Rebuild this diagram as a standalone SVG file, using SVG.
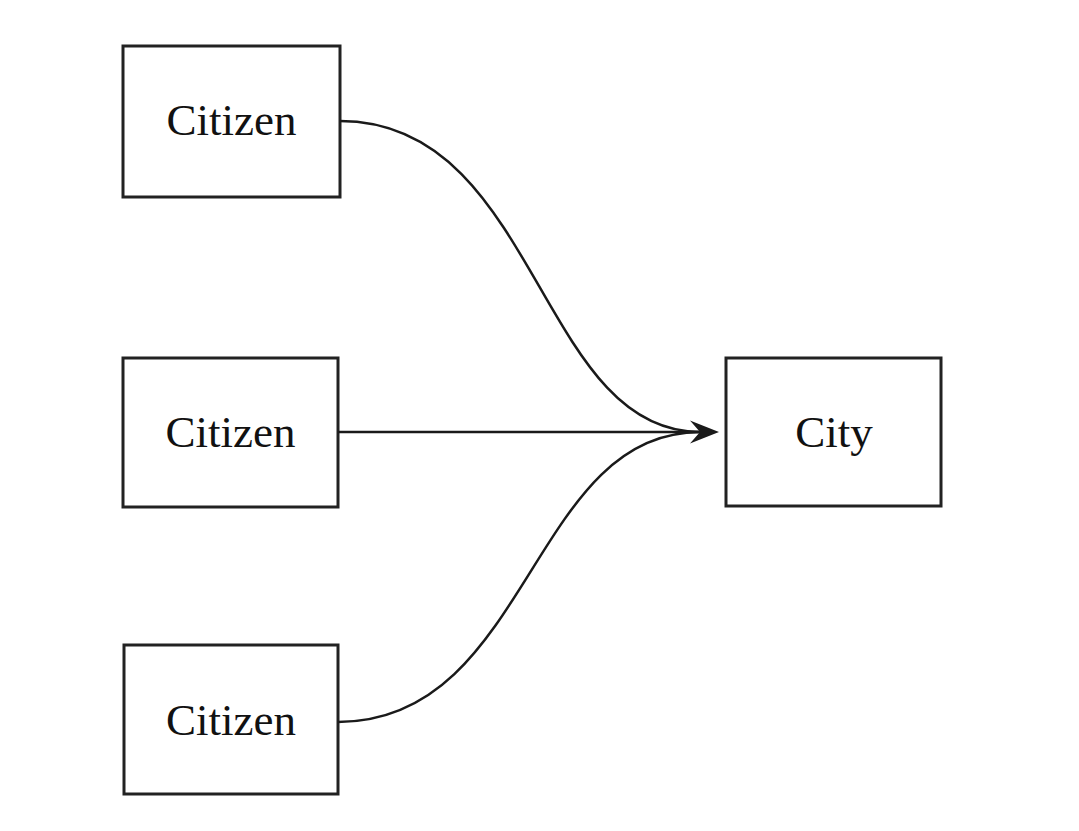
<svg xmlns="http://www.w3.org/2000/svg" width="1079" height="831" viewBox="0 0 1079 831">
<style>
.box{fill:#fff;stroke:#222;stroke-width:3}
.lbl{font-family:"Liberation Serif","Times New Roman",serif;font-size:45px;fill:#111;text-anchor:middle}
.edge{fill:none;stroke:#1a1a1a;stroke-width:2.5}
.head{fill:#1a1a1a}
</style>
<rect width="1079" height="831" fill="#fff"/>
<g id="citizen1"><rect class="box" x="123" y="46" width="217" height="151"/><text class="lbl" x="231.5" y="135">Citizen</text></g>
<g id="citizen2"><rect class="box" x="123" y="358" width="215" height="149"/><text class="lbl" x="230.5" y="447">Citizen</text></g>
<g id="citizen3"><rect class="box" x="124" y="645" width="214" height="149"/><text class="lbl" x="231" y="735">Citizen</text></g>
<g id="city"><rect class="box" x="726" y="358" width="215" height="148"/><text class="lbl" x="834" y="447">City</text></g>
<g id="connectors">
<path class="edge" d="M340,121 C538,121 538,432 700,432"/>
<path class="edge" d="M338,432 L700,432"/>
<path class="edge" d="M338,722 C530,722 530,432 700,432"/>
<path class="head" d="M719,432 L690,420.5 L700,432 L690,443.5 Z"/>
</g>
</svg>
